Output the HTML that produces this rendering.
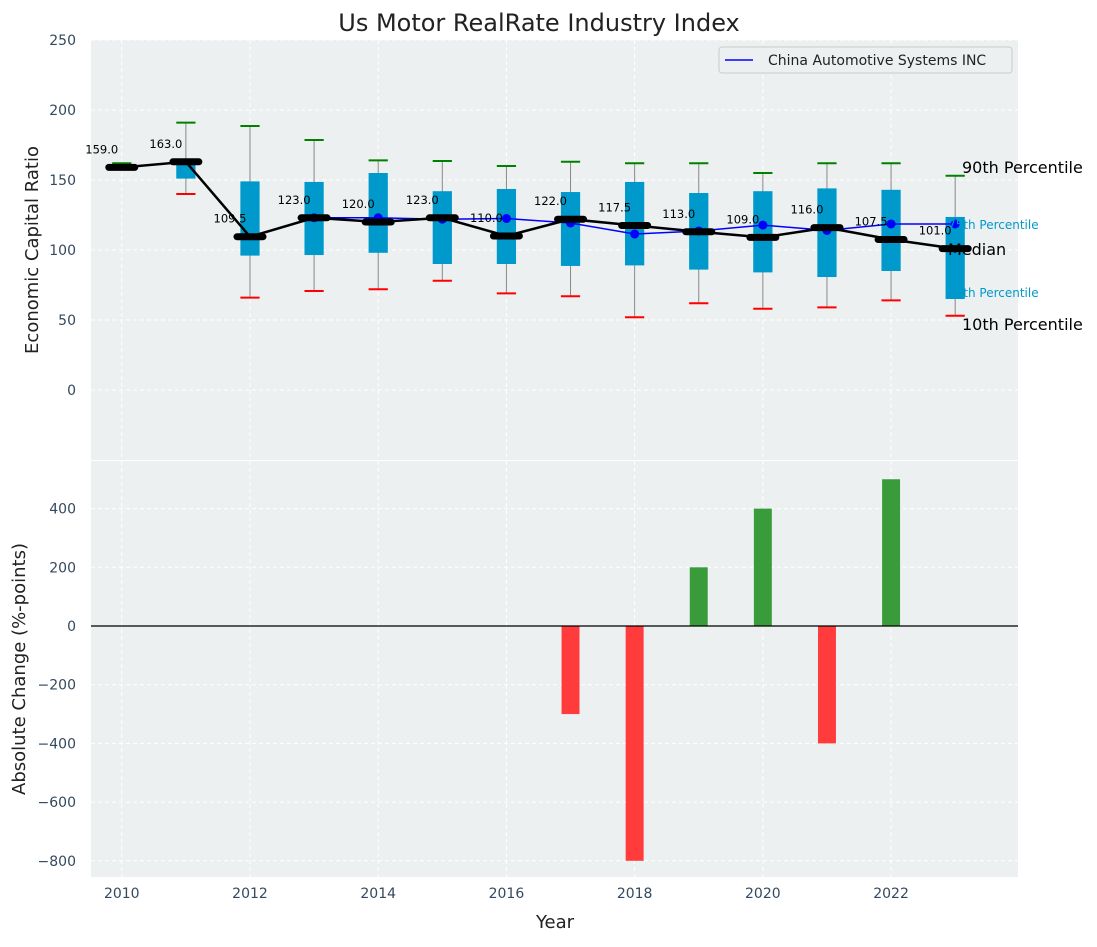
<!DOCTYPE html>
<html><head><meta charset="utf-8"><style>
body{margin:0;background:#fff;font-family:"Liberation Sans","DejaVu Sans",sans-serif}
svg text{font-family:"DejaVu Sans","Liberation Sans",sans-serif}
</style></head><body>
<svg id="c" width="1097" height="942" xmlns="http://www.w3.org/2000/svg"></svg>
<script>
const years=[2010,2011,2012,2013,2014,2015,2016,2017,2018,2019,2020,2021,2022,2023];
const medians=[159,163,109.5,123,120,123,110,122,117.5,113,109,116,107.5,101];
const p90=[162,191,188.6,178.6,164,163.6,160,163,162,162,155,162,162,153];
const p10=[158,140,66,70.7,72,78,69,67,52,62,58,59,64,53];
const q75=[160,163,149,148.6,155,142,143.6,141.4,148.6,140.7,142,144,143,123.6];
const q25=[159,151,96,96.4,98,90,90,88.6,89,86,84,80.7,85,65];
const companyYears=[2013,2014,2015,2016,2017,2018,2019,2020,2021,2022,2023];
const companyVals=[123,123,122,122.5,119.3,111.4,113.6,117.8,114,118.6,118.6];
const changeYears=[2017,2018,2019,2020,2021,2022];
const changeVals=[-300,-800,200,400,-400,500];
const topTicks=[0,50,100,150,200,250];
const botTicks=[-800,-600,-400,-200,0,200,400];
const xTicks=[2010,2012,2014,2016,2018,2020,2022];

const L=91,R=1018;
const X=v=>L+(v-2009.52)/(14.46)*(R-L);
const T0=40,T1=460; const YT=v=>T1-(v+50)/300*(T1-T0);
const B0=461,B1=877; const YB=v=>626-v*0.2935;
const svg=document.getElementById('c');const NS='http://www.w3.org/2000/svg';
function el(t,a,txt,name,p){const e=document.createElementNS(NS,t);for(const k in a)e.setAttribute(k,a[k]);if(txt!=null)e.textContent=txt;


(p||svg).appendChild(e);return e;}
el('rect',{x:L,y:T0,width:R-L,height:T1-T0,fill:'#ecf0f1'},null,'top-plot-area');
el('rect',{x:L,y:B0,width:R-L,height:B1-B0,fill:'#ecf0f1'},null,'bottom-plot-area');
xTicks.forEach(t=>{
 el('line',{x1:X(t),x2:X(t),y1:T0,y2:T1,stroke:'#fff','stroke-dasharray':'4,3'},null,'x-grid-top');
 el('line',{x1:X(t),x2:X(t),y1:B0,y2:B1,stroke:'#fff','stroke-dasharray':'4,3'},null,'x-grid-bottom');
 el('text',{x:X(t),y:898,'text-anchor':'middle','font-size':14,fill:'#34495e'},t,'x-tick-label');
});
topTicks.forEach(t=>{
 el('line',{x1:L,x2:R,y1:YT(t),y2:YT(t),stroke:'#fff','stroke-dasharray':'4,3'},null,'y-grid-top');
 el('text',{x:76,y:YT(t)+5,'text-anchor':'end','font-size':14,fill:'#34495e'},t,'y-tick-label-top');
});
botTicks.forEach(t=>{
 el('line',{x1:L,x2:R,y1:YB(t),y2:YB(t),stroke:'#fff','stroke-dasharray':'4,3'},null,'y-grid-bottom');
 el('text',{x:76,y:YB(t)+5,'text-anchor':'end','font-size':14,fill:'#34495e'},t<0?'\u2212'+(-t):t,'y-tick-label-bottom');
});
const bw=(X(1)-X(0))*0.3;
years.forEach((y,i)=>{
 const cx=X(y);
 el('line',{x1:cx,x2:cx,y1:YT(p90[i]),y2:YT(p10[i]),stroke:'#888','stroke-width':1},null,'whisker-'+y);
 el('rect',{x:cx-bw/2,y:YT(q75[i]),width:bw,height:YT(q25[i])-YT(q75[i]),fill:'#0099cc'},null,'iqr-box-'+y);
 el('line',{x1:cx-bw/2,x2:cx+bw/2,y1:YT(p90[i]),y2:YT(p90[i]),stroke:'green','stroke-width':2},null,'p90-cap-'+y);
 el('line',{x1:cx-bw/2,x2:cx+bw/2,y1:YT(p10[i]),y2:YT(p10[i]),stroke:'red','stroke-width':2},null,'p10-cap-'+y);
});
el('polyline',{points:companyYears.map((y,i)=>X(y)+','+YT(companyVals[i])).join(' '),fill:'none',stroke:'blue','stroke-width':1.5},null,'company-line');
companyYears.forEach((y,i)=>el('circle',{cx:X(y),cy:YT(companyVals[i]),r:4.5,fill:'blue'},null,'company-point-'+y));
el('polyline',{points:years.map((y,i)=>X(y)+','+YT(medians[i])).join(' '),fill:'none',stroke:'#000','stroke-width':2.5},null,'median-line');
years.forEach((y,i)=>{
 el('line',{x1:X(y)-13,x2:X(y)+13,y1:YT(medians[i]),y2:YT(medians[i]),stroke:'#000','stroke-width':7,'stroke-linecap':'round'},null,'median-mark-'+y);
 el('text',{x:X(y)-20,y:YT(medians[i])-14,'text-anchor':'middle','font-size':11.5,fill:'#000'},medians[i].toFixed(1),'median-label-'+y);
});
el('text',{x:962,y:173,'font-size':16},'90th Percentile','p90-label');
el('text',{x:948,y:229,'font-size':12,fill:'#0099cc'},'75th Percentile','p75-label');
el('text',{x:948,y:255,'font-size':16},'Median','median-text-label');
el('text',{x:948,y:297,'font-size':12,fill:'#0099cc'},'25th Percentile','p25-label');
el('text',{x:962,y:330,'font-size':16},'10th Percentile','p10-label');
const g=el('g',{},null,'legend');
el('rect',{x:719,y:47,width:293,height:26,rx:3,fill:'#ecf0f1',stroke:'#ccc'},null,'legend-box',g);
el('line',{x1:725,x2:753,y1:60,y2:60,stroke:'blue','stroke-width':1.5},null,'legend-swatch',g);
el('text',{x:768,y:65,'font-size':14,fill:'#222'},'China Automotive Systems INC','legend-entry',g);
const barW=(X(1)-X(0))*0.28;
changeYears.forEach((y,i)=>{
 const v=changeVals[i];
 el('rect',{x:X(y)-barW/2,y:Math.min(YB(0),YB(v)),width:barW,height:Math.abs(YB(v)-YB(0)),fill:v<0?'#ff3b3b':'#3a9b3a'},null,'change-bar-'+y);
});
el('line',{x1:L,x2:R,y1:YB(0),y2:YB(0),stroke:'#000','stroke-width':1.2},null,'zero-line');
el('text',{x:539,y:31,'text-anchor':'middle','font-size':24,fill:'#222'},'Us Motor RealRate Industry Index','chart-title');
el('text',{x:555,y:928,'text-anchor':'middle','font-size':18,fill:'#222'},'Year','x-axis-title');
el('text',{x:38,y:250,'text-anchor':'middle','font-size':18,fill:'#222',transform:'rotate(-90 38 250)'},'Economic Capital Ratio','y-axis-title-top');
el('text',{x:25,y:669,'text-anchor':'middle','font-size':18,fill:'#222',transform:'rotate(-90 25 669)'},'Absolute Change (%-points)','y-axis-title-bottom');
</script>
</body></html>
